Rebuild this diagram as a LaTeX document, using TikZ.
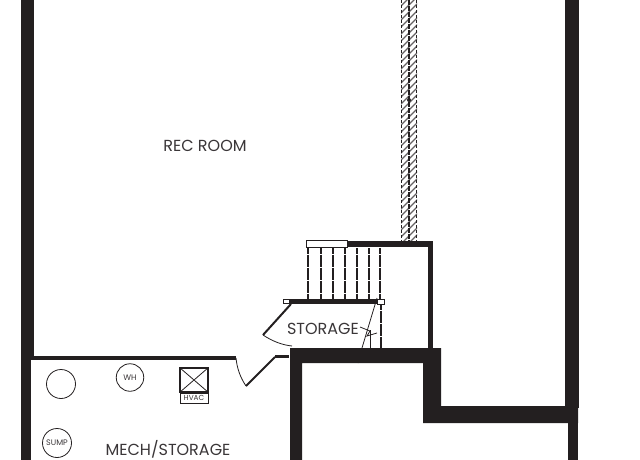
\documentclass[tikz,border=0pt]{standalone}
\usepackage{fontspec}
\setmainfont{Poppins}
\usetikzlibrary{positioning}
\definecolor{wallcol}{HTML}{231F20}
\definecolor{labelcol}{HTML}{3A3638}
\begin{document}
\begin{tikzpicture}[
        x=1pt,y=-1pt,
        wall/.style={fill=wallcol,draw=none},
        thinline/.style={draw=wallcol,line width=0.8pt},
        tread/.style={draw=wallcol,line width=2.4pt,dash pattern=on 6pt off 0.5pt},
        post/.style={draw=wallcol,fill=white,line width=1pt},
        roomlabel/.style={text=labelcol,inner sep=0pt,font=\fontsize{16pt}{18pt}\selectfont},
        fixture/.style={circle,draw=wallcol,line width=0.8pt,inner sep=0pt,text=labelcol,font=\fontsize{8pt}{9pt}\selectfont},
        ]
        \useasboundingbox (0,0) rectangle (640,460);
        % outer walls
        \fill[wall] (21,0) rectangle (34,357);
        \fill[wall] (21,357) rectangle (31,460);
        \fill[wall] (565,0) rectangle (579,408);
        \fill[wall] (568,408) rectangle (578,460);
        % stepped wall
        \fill[wall] (290,348) -- (441,348) -- (441,406) -- (578,406) -- (578,423)
                    -- (423,423) -- (423,363) -- (302,363) -- (302,460) -- (290,460) -- cycle;
        % mech room wall and doors
        \fill[wall] (31,356) rectangle (236,359.5);
        \fill[wall] (275,355) rectangle (289,358);
        \draw[draw=wallcol,line width=2pt] (275,357) -- (246,386);
        \draw[thinline] (246,386) .. controls (240,377) and (237,368) .. (236,358);
        \draw[draw=wallcol,line width=2pt] (291,304) -- (263,335);
        \draw[thinline] (263,335) .. controls (272,341) and (282,345) .. (292,346);
        % hatched column
        \begin{scope}
          \clip (401,0) rectangle (417,241);
          \foreach \y in {0,7,...,252}
            \draw[draw=wallcol!70,line width=1.3pt] (400,\y) -- (418,\y-18);
        \end{scope}
        \foreach \x in {401.5,416.5}
          \draw[draw=wallcol,line width=1.2pt,dash pattern=on 3pt off 2pt] (\x,0) -- (\x,241);
        \draw[draw=wallcol,line width=1.2pt,dash pattern=on 5pt off 1pt] (409,0) -- (409,241);
        \fill[wallcol] (409,100) circle (2pt);
        % stair
        \fill[wall] (347,241) rectangle (433,247);
        \fill[wall] (428,241) rectangle (433,348);
        \node[post,draw,minimum width=41pt,minimum height=7pt,inner sep=0pt] (toppost) at (326.5,244) {};
        \foreach \x in {308,321,333,345,357,369,380}
          \draw[tread] (\x,248) -- (\x,300);
        \fill[wall] (289,299) rectangle (378,303.5);
        \node[post,draw,minimum width=6pt,minimum height=4pt,inner sep=0pt] (leftpost) at (286,301.5) {};
        \node[post,draw,minimum width=7pt,minimum height=5pt,inner sep=0pt] (rightpost) at (380.5,301.5) {};
        \draw[tread] (381,304) -- (381,348);
        % break line
        \draw[thinline] (377,298) -- (362,348) -- (358,363);
        \draw[thinline] (370,330) -- (370,348);
        \draw[thinline] (360,327) -- (370,331) -- (367,336) -- (377,333);
        % labels
        \node[roomlabel] (recroom) at (205,146) {REC ROOM};
        \node[roomlabel] (storage) at (323,329) {STORAGE};
        \node[roomlabel] (mech) at (168,449) {MECH/STORAGE};
        % fixtures
        \node[fixture,minimum size=29pt] (tank) at (61,384) {};
        \node[fixture,minimum size=27.5pt] (wh) at (130,377.5) {WH};
        \node[fixture,minimum size=29pt] (sump) at (57,443) {SUMP};
        \node[draw=wallcol,line width=1.2pt,minimum width=28pt,minimum height=24pt,inner sep=0pt] (hvac) at (194,380) {};
        \draw[thinline] (hvac.north west) -- (hvac.south east) (hvac.north east) -- (hvac.south west);
        \node[draw=wallcol,line width=0.6pt,minimum width=28pt,minimum height=10pt,inner sep=0pt,text=labelcol,
              font=\fontsize{7.3pt}{8pt}\selectfont,below=0pt of hvac] (hvaclabel) {HVAC};
      \end{tikzpicture}
\end{document}
